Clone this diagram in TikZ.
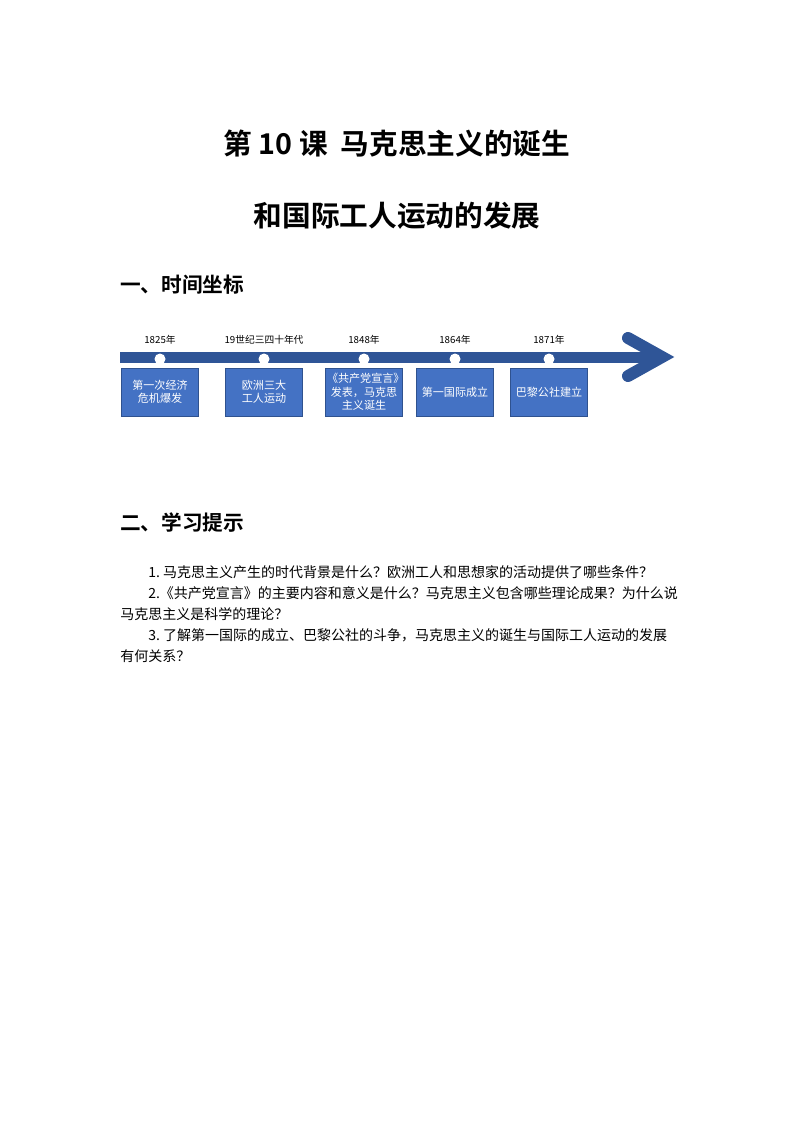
\documentclass[tikz,border=0pt]{standalone}
\usepackage{fontspec}
\setmainfont{Noto Sans CJK SC}
\newfontfamily\cjkb{Noto Sans CJK SC Bold}
\definecolor{bl}{HTML}{4472C4}
\definecolor{bd}{HTML}{2F528F}
\definecolor{ar}{HTML}{2F5597}
\begin{document}
\begin{tikzpicture}[x=0.75pt,y=-0.75pt,
  ev/.style={draw=bd,fill=bl,text=white,minimum width=77*0.75pt,minimum height=48*0.75pt,inner sep=1pt,font=\fontsize{8.3}{10}\selectfont,align=center,text width=74*0.75pt},
  yr/.style={font=\fontsize{7.3}{8}\selectfont},
  dot/.style={circle,fill=white,minimum size=11*0.75pt,inner sep=0pt},
  body/.style={anchor=west,font=\fontsize{10.5}{12}\selectfont,inner sep=0pt}]
\useasboundingbox (0,0) rectangle (794,1123);
\node (t1) at (397,144) {\cjkb\fontsize{21.5}{24}\selectfont 第 10 课\ \ 马克思主义的诞生};
\node (t2) at (397,216) {\cjkb\fontsize{21.5}{24}\selectfont 和国际工人运动的发展};
\node[anchor=west,inner sep=0pt] (h1) at (120,285) {\cjkb\fontsize{15.5}{18}\selectfont 一、时间坐标};
\node[anchor=west,inner sep=0pt] (h2) at (120,523) {\cjkb\fontsize{15.5}{18}\selectfont 二、学习提示};
% timeline
\fill[ar] (120,351.5) rectangle (656,363);
\draw[ar,line width=12*0.75pt,line cap=round,line join=miter] (628,338) -- (662,357) -- (628,376);
\foreach \n/\x/\y/\t in {a/160/1825年/第一次经济\\危机爆发, b/264/19世纪三四十年代/欧洲三大\\工人运动, c/364/1848年/《共产党宣言》\\发表，马克思\\主义诞生, d/455/1864年/第一国际成立, e/549/1871年/巴黎公社建立}{
  \node[dot] (d\n) at (\x,359) {};
  \node[yr] (y\n) at (\x,340) {\y};
  \node[ev] (b\n) at (\x,392) {\t};
}
\node[body] (l1) at (148,572) {1.\ 马克思主义产生的时代背景是什么？欧洲工人和思想家的活动提供了哪些条件？};
\node[body] (l2) at (148,593) {2.《共产党宣言》的主要内容和意义是什么？马克思主义包含哪些理论成果？为什么说};
\node[body] (l3) at (120,614) {马克思主义是科学的理论？};
\node[body] (l4) at (148,635) {3.\ 了解第一国际的成立、巴黎公社的斗争，马克思主义的诞生与国际工人运动的发展};
\node[body] (l5) at (120,656) {有何关系？};
\end{tikzpicture}
\end{document}
